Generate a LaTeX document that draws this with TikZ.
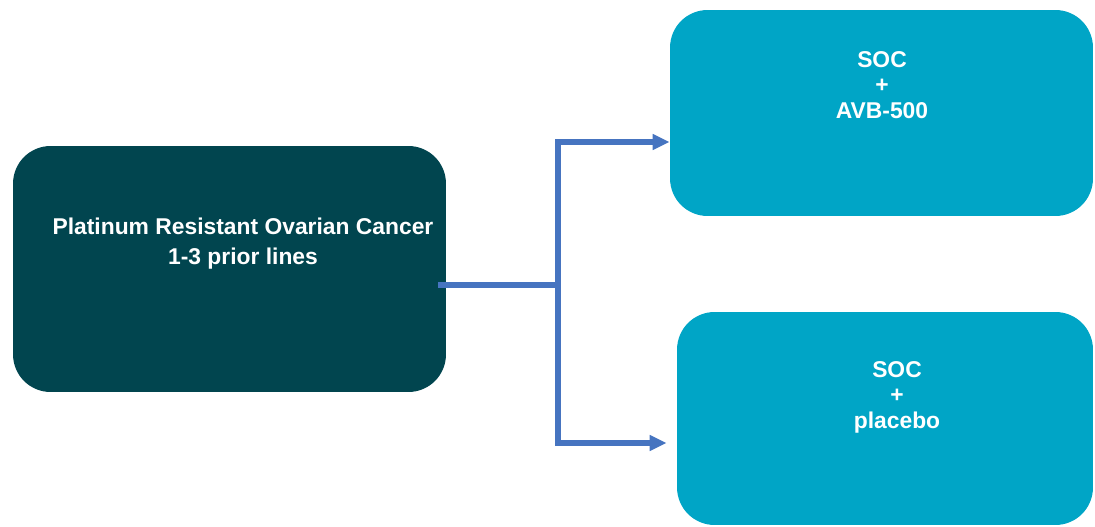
\documentclass[tikz,border=0pt]{standalone}
\usepackage{fontspec}
\setmainfont{Liberation Sans}
\usepackage{tikz}
\usetikzlibrary{arrows.meta,positioning,calc}
\usepackage{xcolor}
\definecolor{deepteal}{RGB}{1,69,79}
\definecolor{armcyan}{RGB}{0,165,198}
\definecolor{flowblue}{RGB}{70,116,192}

\begin{document}
\begin{tikzpicture}[x=0.02cm, y=-0.02cm,
  cohort/.style={draw=none, fill=deepteal, rectangle, rounded corners=0.75cm},
  armbox/.style={draw=none, fill=armcyan, rectangle, rounded corners=0.75cm},
  txt/.style={text=white, align=center, font=\fontsize{13}{14.5}\selectfont\bfseries},
  flow/.style={draw=flowblue, line width=3.3pt},
  >={Triangle[length=3.4mm, width=3mm]}
]
  \useasboundingbox (0,0) rectangle (1095,527);
  \node[cohort, minimum width=8.66cm, minimum height=4.92cm] (prc) at (229.5,269) {};
  \node[armbox, minimum width=8.46cm, minimum height=4.12cm] (armA) at (881.5,113) {};
  \node[armbox, minimum width=8.32cm, minimum height=4.26cm] (armB) at (885,418.5) {};

  \node[txt, font=\fontsize{13}{17}\selectfont\bfseries] (prcText) at (243,244) {Platinum Resistant Ovarian Cancer\\1-3 prior lines};
  \node[txt] (armAText) at (882,85) {SOC\\+\\AVB-500};
  \node[txt] (armBText) at (897,397) {SOC\\+\\placebo};

  \coordinate (split) at (558,285);
  \draw[flow] ($(prc.east)+(-8,16)$) -- (split);
  \draw[flow, ->] (split) |- ($(armA.west)+(0,29)$);
  \draw[flow, ->] (split) |- ($(armB.west)+(-10,24.5)$);
\end{tikzpicture}
\end{document}
